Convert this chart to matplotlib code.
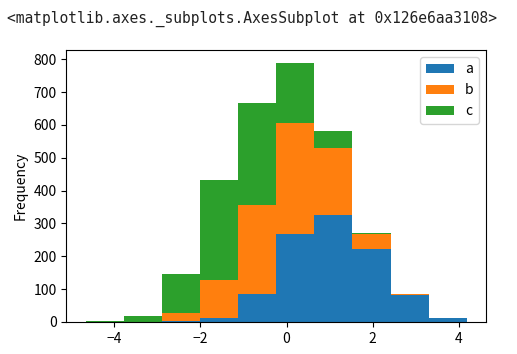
import numpy as np
import matplotlib
matplotlib.use("Agg")
import matplotlib.pyplot as plt

plt.rcParams["font.family"] = ["Noto Sans CJK KR", "DejaVu Sans"]

# bin edges shared by all three columns (10 bins)
edges = [-4.667, -3.782, -2.897, -2.011, -1.126, -0.241, 0.644, 1.529, 2.415, 3.300, 4.186]

# counts per bin
a = [0, 0, 4, 13, 84, 267, 326, 222, 81, 12]
b = [0, 1, 23, 115, 272, 340, 203, 47, 3, 0]
c = [3, 18, 118, 303, 312, 182, 54, 2, 0, 0]

labels = ["a", "b", "c"]
colors = ["#1f77b4", "#ff7f0e", "#2ca02c"]

fig = plt.figure(figsize=(5.17, 3.54), dpi=100)
ax = fig.add_axes([0.1286, 0.0904, 0.8114, 0.7684])

centers = [(edges[i] + edges[i + 1]) / 2 for i in range(len(edges) - 1)]
ax.hist([centers] * 3, bins=edges, weights=[a, b, c], stacked=True,
        color=colors, label=labels)

ax.set_ylabel("Frequency")
ax.set_yticks(range(0, 801, 100))
ax.legend(loc="upper right")

fig.text(0.013, 0.946, "<matplotlib.axes._subplots.AxesSubplot at 0x126e6aa3108>",
         family="DejaVu Sans Mono", fontsize=10.5, va="center", color="#222222")

fig.savefig("out.png", dpi=100)
